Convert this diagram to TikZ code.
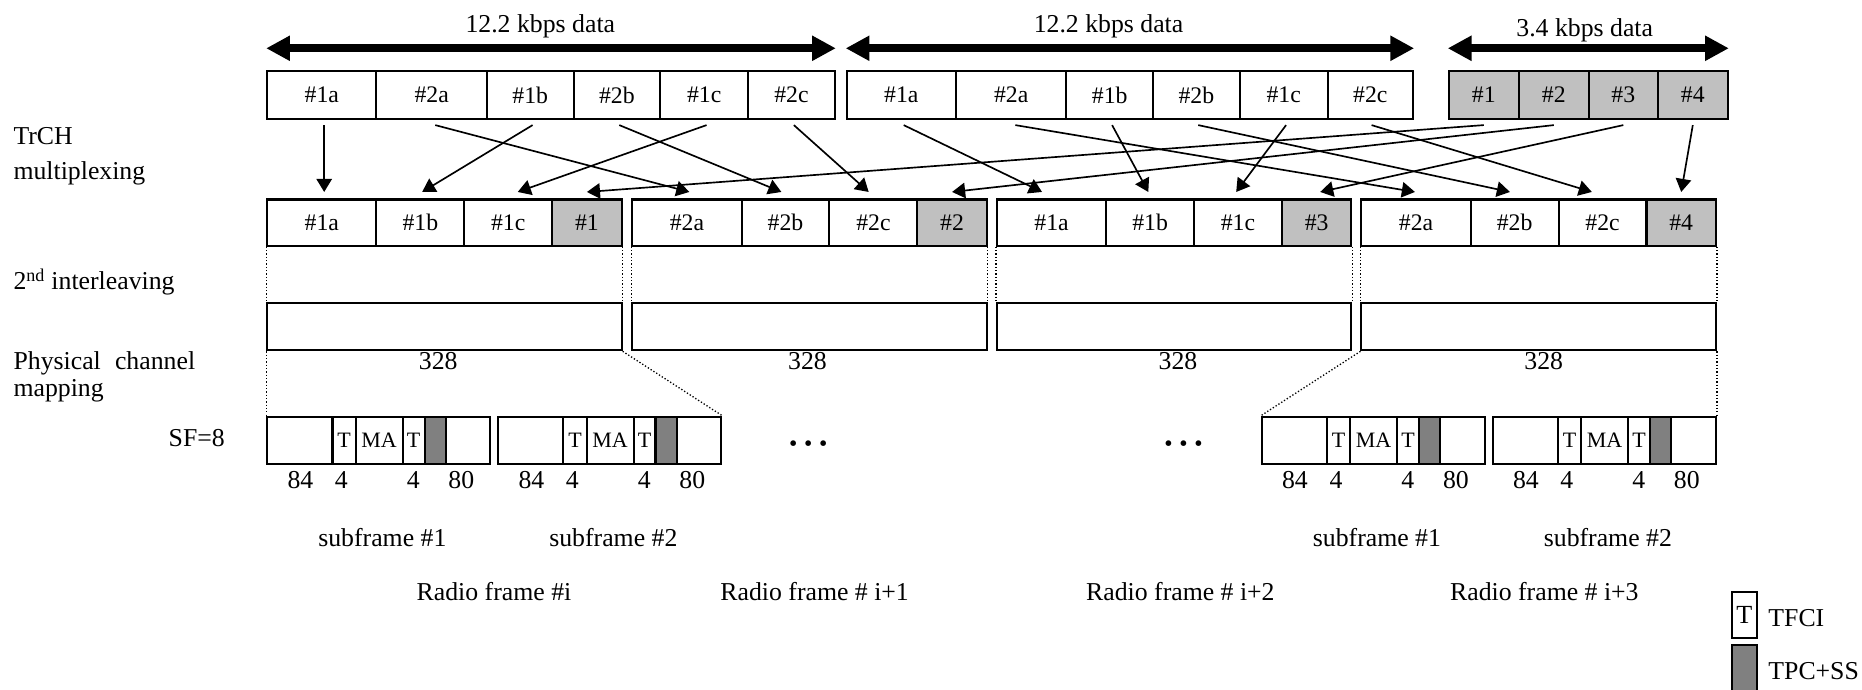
\documentclass[tikz,border=0pt]{standalone}
\usepackage{fontspec}
\setmainfont{Liberation Serif}
\usetikzlibrary{arrows.meta}
\definecolor{lgray}{RGB}{192,192,192}
\definecolor{dgray}{RGB}{128,128,128}
\begin{document}
\begin{tikzpicture}[x=1pt,y=-1pt,
  txt/.style={inner sep=0pt, font=\fontsize{21.7}{26}\selectfont},
  cell/.style={draw, line width=1.7pt, inner sep=0pt, minimum height=40pt, font=\fontsize{20}{24}\selectfont},
  gcell/.style={cell, fill=lgray},
  seg/.style={draw, line width=1.7pt, inner sep=0pt, minimum height=40pt, font=\fontsize{18.5}{22}\selectfont},
  tpc/.style={seg, fill=dgray},
  ibox/.style={draw, line width=1.7pt, inner sep=0pt, minimum width=298.5pt, minimum height=40pt},
  muxarrow/.style={line width=1.4pt, -{Triangle[length=11pt,width=13pt]}},
  datarrow/.style={line width=7pt, {Triangle[length=20pt,width=20pt]}-{Triangle[length=20pt,width=20pt]}},
  dotline/.style={line width=1.1pt, dash pattern=on 1.1pt off 1.7pt},
]
\useasboundingbox (0,0) rectangle (1568,581);

% ---------- top row ----------
\node[cell,minimum width=92pt] (t1a) at (271,80) {\#1a};
\node[cell,minimum width=93pt] (t2a) at (363.5,80) {\#2a};
\node[cell,minimum width=73pt] (t1b) at (446.5,80) {\#1b};
\node[cell,minimum width=73pt] (t2b) at (519.5,80) {\#2b};
\node[cell,minimum width=74pt] (t1c) at (593,80) {\#1c};
\node[cell,minimum width=73pt] (t2c) at (666.5,80) {\#2c};

\node[cell,minimum width=92pt] (u1a) at (759,80) {\#1a};
\node[cell,minimum width=93pt] (u2a) at (851.5,80) {\#2a};
\node[cell,minimum width=73pt] (u1b) at (934.5,80) {\#1b};
\node[cell,minimum width=73pt] (u2b) at (1007.5,80) {\#2b};
\node[cell,minimum width=74pt] (u1c) at (1081,80) {\#1c};
\node[cell,minimum width=72pt] (u2c) at (1154,80) {\#2c};

\node[gcell,minimum width=59pt] (g1) at (1249.5,80) {\#1};
\node[gcell,minimum width=59pt] (g2) at (1308.5,80) {\#2};
\node[gcell,minimum width=58pt] (g3) at (1367,80) {\#3};
\node[gcell,minimum width=59pt] (g4) at (1425.5,80) {\#4};

% data arrows
\draw[datarrow] ([yshift=18.5pt]t1a.north west) -- ([yshift=18.5pt]t2c.north east);
\draw[datarrow] ([yshift=18.5pt]u1a.north west) -- ([yshift=18.5pt]u2c.north east);
\draw[datarrow] ([yshift=18.5pt]g1.north west) -- ([yshift=18.5pt]g4.north east);
\node[txt,anchor=base] (d1) at (455,27.5) {12.2 kbps data};
\node[txt,anchor=base] (d2) at (933.5,27.5) {12.2 kbps data};
\node[txt,anchor=base] (d3) at (1334.5,31) {3.4 kbps data};

% ---------- middle row, interleaving boxes ----------
\foreach \lft/\fr/\pn/\qn/\xn in {225/1/1/1/369, 532.5/2/2/2/680, 839.5/3/1/3/992, 1146.5/4/2/4/1300}{
  \node[cell,minimum width=92pt,minimum height=39pt] (m\fr-a) at (\lft+46,187.5) {\#\pn a};
  \node[cell,minimum width=74pt,minimum height=39pt] (m\fr-b) at (\lft+129,187.5) {\#\pn b};
  \node[cell,minimum width=74pt,minimum height=39pt] (m\fr-c) at (\lft+203,187.5) {\#\pn c};
  \node[gcell,minimum width=58.5pt,minimum height=39pt] (m\fr-g) at (\lft+269.25,187.5) {\#\qn};
  \node[ibox] (il\fr) at (\lft+149.25,275) {};
  \node[txt,anchor=base] (n\fr) at (\xn,311) {328};
  \draw[dotline] (m\fr-a.south west) -- (il\fr.north west);
  \draw[dotline] (m\fr-g.south east) -- (il\fr.north east);
}

% ---------- multiplexing arrows ----------
\draw[muxarrow] ([xshift=2pt,yshift=-4.5pt]t1a.south) -- ([xshift=2pt,yshift=5.5pt]m1-a.north);
\draw[muxarrow] ([xshift=3pt,yshift=-4.5pt]t2a.south) -- ([xshift=2pt,yshift=5.5pt]m2-a.north);
\draw[muxarrow] ([xshift=2pt,yshift=-4.5pt]t1b.south) -- ([xshift=1.5pt,yshift=5.5pt]m1-b.north);
\draw[muxarrow] ([xshift=2pt,yshift=-4.5pt]t2b.south) -- ([xshift=-3.5pt,yshift=5.5pt]m2-b.north);
\draw[muxarrow] ([xshift=2pt,yshift=-4.5pt]t1c.south) -- ([xshift=8pt,yshift=5.5pt]m1-c.north);
\draw[muxarrow] ([xshift=2pt,yshift=-4.5pt]t2c.south) -- ([xshift=-4pt,yshift=5.5pt]m2-c.north);

\draw[muxarrow] ([xshift=2pt,yshift=-4.5pt]u1a.south) -- ([xshift=-8pt,yshift=5.5pt]m3-a.north);
\draw[muxarrow] ([xshift=3.5pt,yshift=-4.5pt]u2a.south) -- ([xshift=-1pt,yshift=5.5pt]m4-a.north);
\draw[muxarrow] ([xshift=2pt,yshift=-4.5pt]u1b.south) -- ([xshift=-1.5pt,yshift=5.5pt]m3-b.north);
\draw[muxarrow] ([xshift=1.5pt,yshift=-4.5pt]u2b.south) -- ([xshift=-4pt,yshift=5.5pt]m4-b.north);
\draw[muxarrow] ([xshift=2pt,yshift=-4.5pt]u1c.south) -- ([xshift=-1.5pt,yshift=5.5pt]m3-c.north);
\draw[muxarrow] ([xshift=1pt,yshift=-4.5pt]u2c.south) -- ([xshift=-9pt,yshift=5.5pt]m4-c.north);

\draw[muxarrow] ([yshift=-4.5pt]g1.south) -- ([yshift=5.5pt]m1-g.north);
\draw[muxarrow] ([yshift=-4.5pt]g2.south) -- ([yshift=5.5pt]m2-g.north);
\draw[muxarrow] ([yshift=-4.5pt]g3.south) -- ([xshift=3pt,yshift=5.5pt]m3-g.north);
\draw[muxarrow] ([yshift=-4.5pt]g4.south) -- ([yshift=5.5pt]m4-g.north);

% ---------- subframes ----------
\foreach \lft/\sf/\sn in {225/1/1, 419.5/2/2, 1062.5/3/1, 1257/4/2}{
  \node[seg,minimum width=55pt] (s\sf-a) at (\lft+27.5,371) {};
  \node[seg,minimum width=19.5pt] (s\sf-t) at (\lft+64.75,371) {T};
  \node[seg,minimum width=39.5pt] (s\sf-m) at (\lft+94.25,371) {MA};
  \node[seg,minimum width=18.5pt] (s\sf-u) at (\lft+123.25,371) {T};
  \node[seg,minimum width=37.5pt] (s\sf-e) at (\lft+169.25,371) {};
  \node[tpc,minimum width=18pt] (s\sf-g) at (\lft+141.5,371) {};
  \node[txt,anchor=base] (s\sf-l1) at (\lft+28,411) {84};
  \node[txt,anchor=base] (s\sf-l2) at (\lft+62.5,411) {4};
  \node[txt,anchor=base] (s\sf-l3) at (\lft+123,411) {4};
  \node[txt,anchor=base] (s\sf-l4) at (\lft+163.5,411) {80};
  \node[txt,anchor=base] (s\sf-name) at (\lft+97,460) {subframe \#\sn};
}

\draw[dotline] (il1.south west) -- (s1-a.north west);
\draw[dotline] (il1.south east) -- (s2-e.north east);
\draw[dotline] (il4.south west) -- (s3-a.north west);
\draw[dotline] (il4.south east) -- (s4-e.north east);

\node[inner sep=0pt,anchor=base,font=\fontsize{20}{24}\selectfont] (el1) at (680.7,380) {•\hspace{5.6pt}•\hspace{5.6pt}•};
\node[inner sep=0pt,anchor=base,font=\fontsize{20}{24}\selectfont] (el2) at (996.7,380) {•\hspace{5.6pt}•\hspace{5.6pt}•};

% ---------- radio frame labels ----------
\node[txt,anchor=base] (rf1) at (416,505.3) {Radio frame \#i};
\node[txt,anchor=base] (rf2) at (686,505.3) {Radio frame \# i+1};
\node[txt,anchor=base] (rf3) at (994,505.3) {Radio frame \# i+2};
\node[txt,anchor=base] (rf4) at (1300.5,505.3) {Radio frame \# i+3};

% ---------- left labels ----------
\node[txt,anchor=base west] (lab1) at (11.2,122) {TrCH};
\node[txt,anchor=base west] (lab2) at (11.2,151) {multiplexing};
\node[txt,anchor=base west] (lab3) at (11.2,244.2) {2\textsuperscript{nd} interleaving};
\node[txt,anchor=base west] (lab4) at (11.2,311) {Physical\hspace{0.55em}channel};
\node[txt,anchor=base west] (lab5) at (11.2,334) {mapping};
\node[txt,anchor=base east] (lab6) at (189.5,376) {SF=8};

% ---------- legend ----------
\node[draw,line width=1.7pt,inner sep=0pt,minimum width=20.5pt,minimum height=39.3pt,font=\fontsize{22}{26}\selectfont] (legT) at (1469,518) {T};
\node[draw,line width=1.7pt,fill=dgray,inner sep=0pt,minimum width=20.5pt,minimum height=39pt] (legG) at (1469,562.5) {};
\node[txt,anchor=base west] (legT-l) at (1489,527.7) {TFCI};
\node[txt,anchor=base west] (legG-l) at (1489,572.6) {TPC+SS};
\end{tikzpicture}
\end{document}
